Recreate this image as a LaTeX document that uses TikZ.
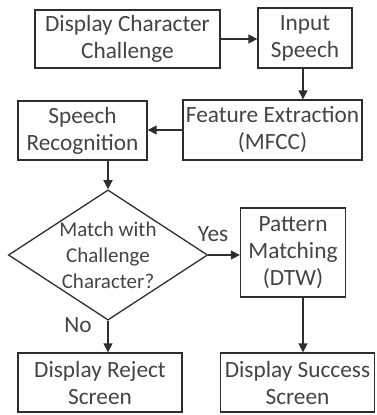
\documentclass[tikz,border=0pt]{standalone}
\usepackage{fontspec}
\setmainfont{Carlito}
\usetikzlibrary{arrows.meta,shapes.geometric}
\definecolor{txt}{HTML}{444444}
\definecolor{ln}{HTML}{2E2E2E}
\begin{document}
\begin{tikzpicture}[x=1pt,y=-1pt,
  box/.style={draw=ln,line width=1.3pt,inner sep=0pt,align=center,font=\fontsize{23.3}{27}\selectfont,text=txt},
  conn/.style={draw=ln,line width=1.3pt,-{Triangle[length=9pt,width=9pt]}},
  lbl/.style={font=\fontsize{23.3}{27}\selectfont,text=txt}]
\useasboundingbox (0,0) rectangle (376,415);
\node[box,minimum width=185pt,minimum height=58pt] (b1) at (127.5,39) {Display Character\\Challenge};
\node[box,minimum width=94pt,minimum height=60pt] (b2) at (305,38) {Input\\Speech};
\node[box,minimum width=179pt,minimum height=60pt] (b3) at (272.5,130) {Feature Extraction\\(MFCC)};
\node[box,minimum width=129pt,minimum height=59pt] (b4) at (82.5,130.5) {Speech\\Recognition};
\node[draw=ln,line width=1.3pt,diamond,aspect=1.53,inner sep=0pt,minimum width=190pt,minimum height=124pt,align=center,font=\fontsize{21}{26}\selectfont,text=txt] (d) at (108,255) {Match with\\Challenge\\Character?};
\node[box,minimum width=105pt,minimum height=89pt] (b5) at (293,252.5) {Pattern\\Matching\\(DTW)};
\node[box,minimum width=164pt,minimum height=59pt] (b6) at (100,382.5) {Display Reject\\Screen};
\node[box,minimum width=154pt,minimum height=59pt] (b7) at (297.5,382.5) {Display Success\\Screen};
\draw[conn] (b1.east) -- (b2.west |- b1.east);
\draw[conn] (b2.south -| 303,0) -- (b3.north -| 303,0);
\draw[conn] (b3.west) -- (b4.east |- b3.west);
\draw[conn] (b4.south -| d.north) -- (d.north);
\draw[conn] (d.east) -- (b5.west |- d.east);
\draw[conn] (d.south) -- (b6.north -| d.south);
\draw[conn] (b5.south -| 303,0) -- (b7.north -| 303,0);
\node[lbl] (yes) at (213,234) {Yes};
\node[lbl] (no) at (78,325) {No};
\end{tikzpicture}
\end{document}
